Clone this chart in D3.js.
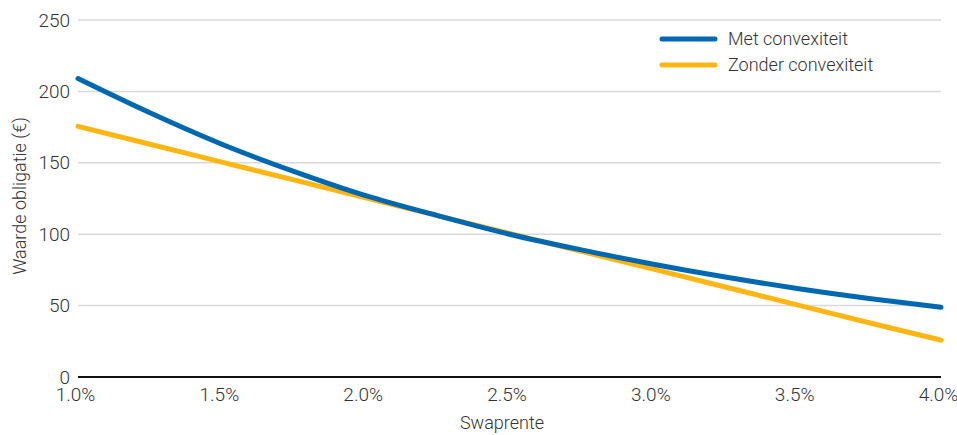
<!DOCTYPE html>
<html>
<head>
<meta charset="utf-8">
<script src="https://cdn.jsdelivr.net/npm/d3@7"></script>
<style>
  html, body { margin: 0; padding: 0; background: #fff; }
  svg { display: block; font-family: Roboto, "Open Sans", sans-serif; font-weight: 300; }
</style>
</head>
<body>
<svg id="chart" width="957" height="435"></svg>
<script>
// Swap rate (%) on the x axis
const rates = [1.0, 1.25, 1.5, 1.75, 2.0, 2.25, 2.5, 2.75, 3.0, 3.25, 3.5, 3.75, 4.0];
// Bond value with convexity (€)
const withConvexity = [209, 185, 163, 144, 127, 113, 100, 89, 79, 70, 62, 55, 48.8];
// Bond value without convexity: linear duration approximation (€)
const withoutConvexity = [175.5, 163, 150.5, 138, 125.5, 113, 100.5, 88, 75.5, 63, 50.5, 38, 25.8];

const xTicks = [1.0, 1.5, 2.0, 2.5, 3.0, 3.5, 4.0];
const yTicks = [0, 50, 100, 150, 200, 250];
const seriesNames = ["Met convexiteit", "Zonder convexiteit"];
const seriesColors = ["#0067b1", "#ffb612"];

const svg = d3.select("#chart");
const textColor = "#333";

const x = d3.scaleLinear().domain([1.0, 4.0]).range([78, 941]);
const y = d3.scaleLinear().domain([0, 250]).range([377, 20]);

// horizontal gridlines
svg.append("g")
  .selectAll("line")
  .data(yTicks.filter(d => d > 0))
  .join("line")
  .attr("x1", x(1.0)).attr("x2", x(4.0))
  .attr("y1", d => y(d)).attr("y2", d => y(d))
  .attr("stroke", "#d9d9d9").attr("stroke-width", 1.5);

// y axis tick labels
const yAxis = d3.axisLeft(y).tickValues(yTicks).tickSize(0).tickPadding(0);
const gy = svg.append("g").attr("transform", "translate(70,0)").call(yAxis);
gy.select(".domain").remove();
gy.selectAll("text")
  .attr("fill", textColor)
  .style("font-size", "19px")
  .style("font-family", "Roboto, sans-serif")
  .style("font-weight", 300);

// x axis tick labels
const xAxis = d3.axisBottom(x).tickValues(xTicks).tickSize(0).tickPadding(0)
  .tickFormat(d => d.toFixed(1) + "%");
const gx = svg.append("g").attr("transform", "translate(-3,387)").call(xAxis);
gx.select(".domain").remove();
gx.selectAll("text")
  .attr("fill", textColor)
  .attr("dy", "0.71em")
  .style("font-size", "19px")
  .style("font-family", "Roboto, sans-serif")
  .style("font-weight", 300);

// baseline
svg.append("line")
  .attr("x1", x(1.0)).attr("x2", x(4.0))
  .attr("y1", y(0)).attr("y2", y(0))
  .attr("stroke", "#111").attr("stroke-width", 2);

// axis titles
svg.append("text")
  .attr("transform", `translate(26,${196}) rotate(-90)`)
  .attr("text-anchor", "middle")
  .attr("fill", textColor)
  .style("font-size", "18px")
  .text("Waarde obligatie (€)");

svg.append("text")
  .attr("x", 502).attr("y", 429)
  .attr("text-anchor", "middle")
  .attr("fill", textColor)
  .style("font-size", "18px")
  .text("Swaprente");

// series lines
const line = d3.line()
  .x(d => x(d[0]))
  .y(d => y(d[1]))
  .curve(d3.curveMonotoneX);

const series = [
  rates.map((r, i) => [r, withConvexity[i]]),
  rates.map((r, i) => [r, withoutConvexity[i]])
];

// draw the linear approximation first so the convex curve sits on top
[1, 0].forEach(i => {
  svg.append("path")
    .datum(series[i])
    .attr("d", line)
    .attr("fill", "none")
    .attr("stroke", seriesColors[i])
    .attr("stroke-width", 5)
    .attr("stroke-linecap", "round")
    .attr("stroke-linejoin", "round");
});

// legend
const legend = svg.append("g");
seriesNames.forEach((name, i) => {
  const ly = 39 + i * 26;
  legend.append("line")
    .attr("x1", 662).attr("x2", 715)
    .attr("y1", ly).attr("y2", ly)
    .attr("stroke", seriesColors[i])
    .attr("stroke-width", 5)
    .attr("stroke-linecap", "round");
  legend.append("text")
    .attr("x", 728).attr("y", ly)
    .attr("dy", "0.35em")
    .attr("fill", textColor)
    .style("font-size", "18px")
    .text(name);
});
</script>
</body>
</html>
